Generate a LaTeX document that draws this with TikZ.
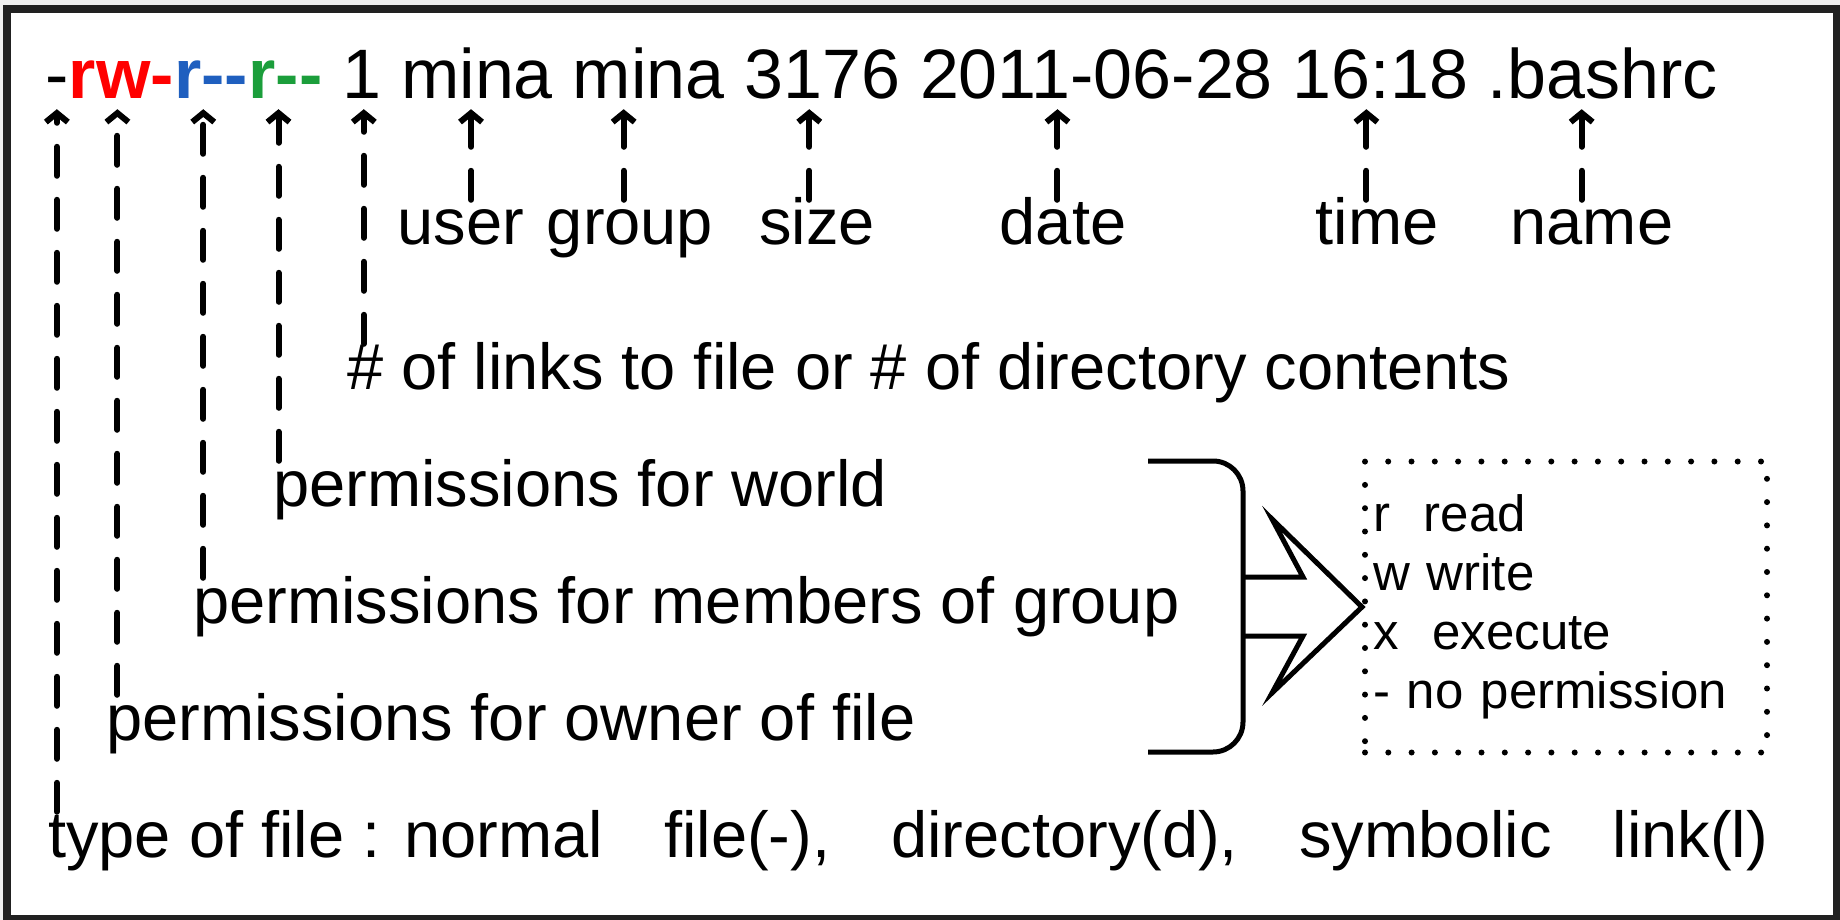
\documentclass[tikz,border=0pt]{standalone}
\usepackage{fontspec}
\setmainfont{Liberation Sans}
\usetikzlibrary{positioning,arrows.meta}
\definecolor{ownred}{HTML}{FF0000}
\definecolor{grpblue}{HTML}{1F5FBF}
\definecolor{wldgreen}{HTML}{1B9E3B}
\definecolor{framegray}{HTML}{F0F0F0}
\newcommand\wgap{\hspace{61pt}}
\tikzset{
  tok/.style={inner sep=0pt,text depth=0pt,font=\fontsize{70}{80}\selectfont},
  perm/.style={tok,font=\fontsize{70}{80}\selectfont\bfseries},
  lbl/.style={inner sep=0pt,text height=45pt,text depth=14pt,font=\fontsize{65}{78}\selectfont},
  ptr/.style={-{Straight Barb[length=9pt,width=22pt]},line width=6pt,line cap=round,dash pattern=on 29pt off 24pt,shorten >=10pt},
  legend/.style={draw,line width=6pt,dash pattern=on 0pt off 23.3pt,line cap=round,minimum width=402pt,minimum height=291pt,text width=386pt,inner xsep=8pt,align=left,font=\fontsize{51}{59}\selectfont}
}
\begin{document}
\begin{tikzpicture}[x=1pt,y=-1pt,node distance=19.5pt]
\useasboundingbox (0,0) rectangle (1840,920);
\fill[framegray] (0,0) rectangle (1840,920);
\draw[line width=8pt,draw=black!87,fill=white] (7,9) rectangle (1837,919);

\node[tok,anchor=base west] (ftype) at (45,99) {-};
\node[perm,ownred,base right=0pt of ftype] (pown) {rw-};
\node[perm,grpblue,base right=0pt of pown] (pgrp) {r{-}{-}};
\node[perm,wldgreen,base right=0pt of pgrp] (pwld) {r{-}{-}};
\node[tok,base right=of pwld] (nlinks) {1};
\node[tok,base right=of nlinks] (owner) {mina};
\node[tok,base right=of owner] (group) {mina};
\node[tok,base right=of group] (fsize) {3176};
\node[tok,base right=of fsize] (mdate) {2011-06-28};
\node[tok,base right=of mdate] (mtime) {16:18};
\node[tok,base right=of mtime] (fname) {.bashrc};

\node[lbl,anchor=base] (owner-l) at (461,245) {user};
\node[lbl,anchor=base] (group-l) at (630,245) {group};
\node[lbl,anchor=base] (fsize-l) at (817,245) {size};
\node[lbl,anchor=base] (mdate-l) at (1063,245) {date};
\node[lbl,anchor=base] (mtime-l) at (1377,245) {time};
\node[lbl,anchor=base] (fname-l) at (1592,245) {name};
\node[lbl,anchor=base west] (nlinks-l) at (347,389) {\# of links to file or \# of directory contents};
\node[lbl,anchor=base west] (pwld-l) at (273,506) {permissions for world};
\node[lbl,anchor=base west] (pgrp-l) at (193,623) {permissions for members of group};
\node[lbl,anchor=base west] (pown-l) at (106,740) {permissions for owner of file};
\node[lbl,anchor=base west] (ftype-l) at (48,857) {type of file : normal\wgap file(-),\wgap directory(d),\wgap symbolic\wgap link(l)};

\foreach \t/\dx in {ftype/0,pown/-4,pgrp/-8,pwld/-7,nlinks/2,owner/-6,group/-25,fsize/-13,mdate/-39,mtime/-14,fname/-21}{
  \coordinate (\t-f) at ([xshift=\dx pt]\t.south);
  \draw[ptr] (\t-l.north -| \t-f) -- (\t-f);
}

\node[legend] (legend) at (1566,607) {r\ \ read\\w write\\x\ \ execute\\- no permission};
\draw[line width=5pt,rounded corners=30pt] (1148,461) -| (1243,752) -- (1148,752);
\draw[line width=5pt,line join=miter] (1243,577) -- ++(60,0) -- ++(-31,-58) -- (legend.west) -- (1272,693) -- ++(31,-57) -- ++(-60,0);
\end{tikzpicture}
\end{document}
